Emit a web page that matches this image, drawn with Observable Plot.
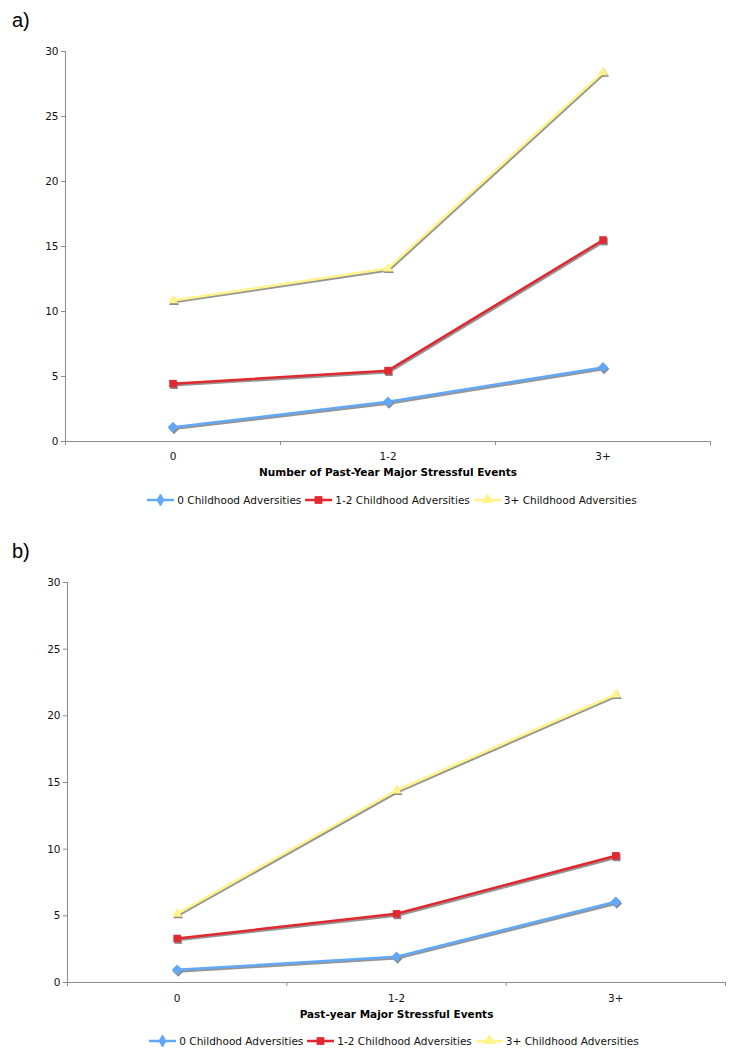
<!DOCTYPE html>
<html><head><meta charset="utf-8">
<script src="https://cdn.jsdelivr.net/npm/d3@7"></script>
<script src="https://cdn.jsdelivr.net/npm/@observablehq/plot@0.6"></script>
<style>
body{margin:0;background:#fff;}
#root{position:relative;width:736px;height:1050px;font-family:"DejaVu Sans",Verdana,sans-serif;overflow:hidden;}
.plabel{position:absolute;left:12px;font-family:"Liberation Sans",Arial,sans-serif;font-size:20px;line-height:20px;color:#000;}
.legend{position:absolute;width:736px;display:flex;justify-content:center;align-items:center;font-size:10.5px;color:#111;height:16px;}
.legend .item{display:flex;align-items:center;margin:0 2px;}
.legend svg{margin-right:3px;}
.panel{position:absolute;left:0;}
</style></head>
<body><div id="root"></div>
<script>
// Categories (x axis)
const events = ["0", "1-2", "3+"];
// Series names
const seriesNames = ["0 Childhood Adversities", "1-2 Childhood Adversities", "3+ Childhood Adversities"];
// Panel a) values
const a_zero = [1.1, 3.05, 5.7];
const a_oneTwo = [4.45, 5.45, 15.5];
const a_threePlus = [10.85, 13.3, 28.4];
// Panel b) values
const b_zero = [0.95, 1.93, 6.05];
const b_oneTwo = [3.3, 5.15, 9.5];
const b_threePlus = [5.15, 14.4, 21.6];
// Y tick values
const yTicks = [0, 5, 10, 15, 20, 25, 30];
const xTitleA = "Number of Past-Year Major Stressful Events";
const xTitleB = "Past-year Major Stressful Events";

const colors = ["#62a8f7", "#e0282e", "#fff38a"];
const symbols = ["diamond2", "square2", "triangle2"];
const legendSymbols = [d3.symbolDiamond, d3.symbolSquare, d3.symbolTriangle];
const axisGray = "#8c8c8c";
const shadow = "#8a8a8a";

function panel(series, xTitle, cfg) {
  const rows = [];
  series.forEach((arr, s) => arr.forEach((v, i) => rows.push({s, i, v})));
  const bounds = d3.range(events.length + 1).map(i => i - 0.5);
  const marks = [
    Plot.ruleY([0], {stroke: axisGray, strokeWidth: 1}),
    Plot.ruleX([bounds[0]], {stroke: axisGray, strokeWidth: 1}),
    Plot.axisY(yTicks, {tickSize: 4, tickPadding: 3, stroke: axisGray, fill: "#111", fontSize: 10.5, label: null}),
    Plot.axisX(bounds, {tickSize: 4, tickFormat: () => "", stroke: axisGray, label: null}),
    Plot.axisX(d3.range(events.length), {tickSize: 0, tickPadding: cfg.tickPad, tickFormat: i => events[i], fill: "#111", fontSize: 10.5, label: null}),
    Plot.text([xTitle], {frameAnchor: "bottom", dy: cfg.titleDy, fontWeight: "bold", fontSize: 10.5, fill: "#000"})
  ];
  series.forEach((arr, s) => {
    const d = rows.filter(r => r.s === s);
    marks.push(Plot.line(d, {x: "i", y: "v", stroke: shadow, strokeWidth: 2.5, dx: 1, dy: 1.6, strokeOpacity: 0.9}));
    marks.push(Plot.dot(d, {x: "i", y: "v", symbol: () => symbols[s], fill: shadow, r: 4.8, dx: 1, dy: 1.6, stroke: null}));
  });
  series.forEach((arr, s) => {
    const d = rows.filter(r => r.s === s);
    marks.push(Plot.line(d, {x: "i", y: "v", stroke: colors[s], strokeWidth: 2.5}));
    marks.push(Plot.dot(d, {x: "i", y: "v", symbol: () => symbols[s], fill: colors[s], r: 4.8, stroke: null}));
  });
  return Plot.plot({
    width: 736,
    height: cfg.height,
    marginLeft: cfg.x0,
    marginRight: 736 - cfg.x1,
    marginTop: cfg.top,
    marginBottom: cfg.bottom,
    x: {type: "linear", domain: [bounds[0], bounds[bounds.length - 1]], axis: null},
    y: {domain: [0, 30], axis: null},
    style: {fontFamily: "DejaVu Sans, Verdana, sans-serif", background: "transparent", overflow: "visible"},
    marks
  });
}

function legend(top, left) {
  const div = document.createElement("div");
  div.className = "legend";
  div.style.top = top + "px";
  div.style.left = left + "px";
  seriesNames.forEach((name, s) => {
    const item = document.createElement("div");
    item.className = "item";
    const sym = d3.create("svg").attr("width", 27).attr("height", 12);
    sym.append("line").attr("x1", 0).attr("x2", 27).attr("y1", 6).attr("y2", 6)
      .attr("stroke", colors[s]).attr("stroke-width", 2.5);
    sym.append("path").attr("d", d3.symbol(legendSymbols[s], s === 0 ? 55 : 60)())
      .attr("transform", "translate(13.5," + (s === 2 ? 5.5 : 6) + ")").attr("fill", colors[s]);
    item.appendChild(sym.node());
    const t = document.createElement("span");
    t.textContent = name;
    item.appendChild(t);
    div.appendChild(item);
  });
  return div;
}

const root = document.getElementById("root");

const la = document.createElement("div"); la.className = "plabel"; la.style.top = "10px"; la.textContent = "a)"; root.appendChild(la);
const pa = panel([a_zero, a_oneTwo, a_threePlus], xTitleA, {height: 490, top: 51, bottom: 49, x0: 65, x1: 710, tickPad: 11, titleDy: 34});
pa.classList.add("panel"); pa.style.top = "0px"; root.appendChild(pa);
root.appendChild(legend(492, 24));

const lb = document.createElement("div"); lb.className = "plabel"; lb.style.top = "541px"; lb.textContent = "b)"; root.appendChild(lb);
const pb = panel([b_zero, b_oneTwo, b_threePlus], xTitleB, {height: 490, top: 42, bottom: 48, x0: 67, x1: 725, tickPad: 12, titleDy: 35});
pb.classList.add("panel"); pb.style.top = "540px"; root.appendChild(pb);
root.appendChild(legend(1033, 26));
</script>
</body></html>
